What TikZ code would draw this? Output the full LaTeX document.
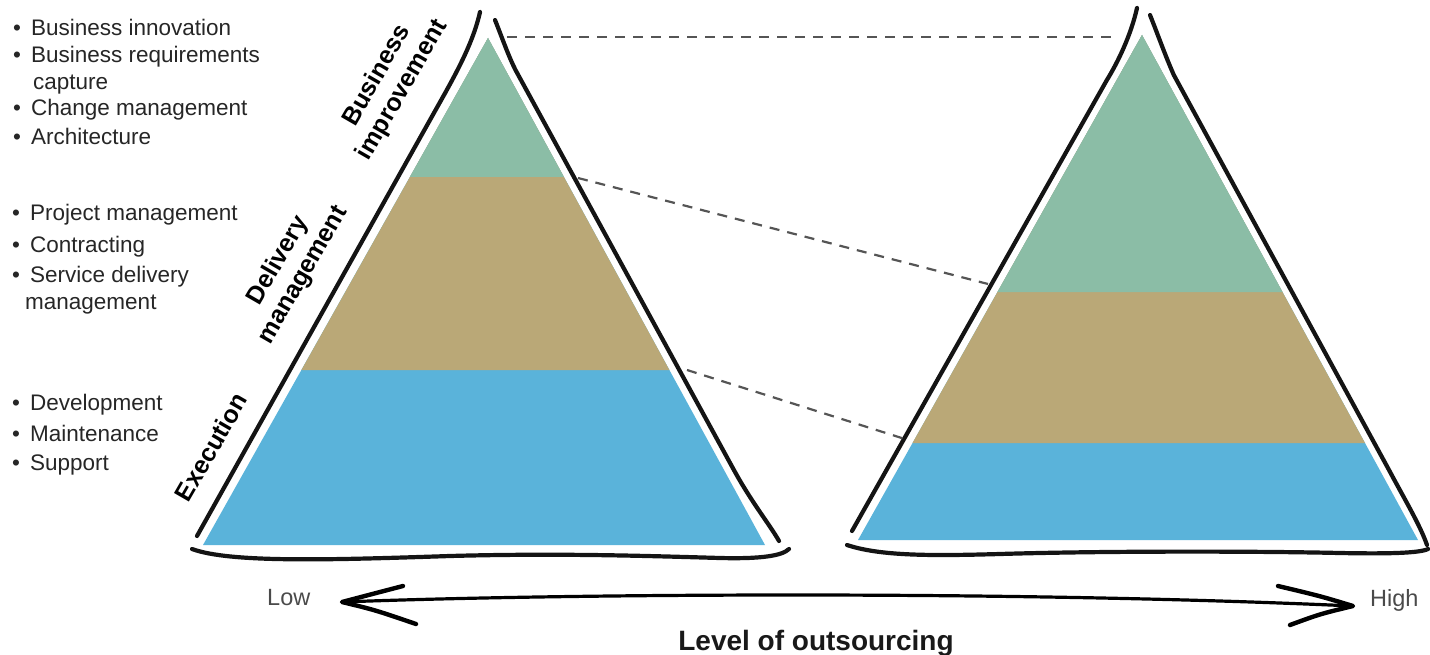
\documentclass[tikz,border=0pt]{standalone}
\usepackage{fontspec}
\setmainfont{Liberation Sans}
\definecolor{bandgreen}{HTML}{8BBDA6}
\definecolor{bandtan}{HTML}{BAA877}
\definecolor{bandblue}{HTML}{5AB3DA}
\definecolor{guidegray}{HTML}{555555}
\definecolor{axisgray}{HTML}{4A4A4A}
\begin{document}
\begin{tikzpicture}[x=1pt,y=-1pt,
  outline/.style={line width=4.2pt,line cap=round,line join=round,draw=black!92},
  guide/.style={draw=guidegray,line width=2.2pt,dash pattern=on 10pt off 8pt},
  arrowline/.style={line width=3.2pt,line cap=round,line join=round,draw=black},
  headline/.style={line width=4.4pt,line cap=round,line join=round,draw=black},
  bul/.style={anchor=base west,inner sep=0pt,text=black!85,font=\fontsize{22.5}{27}\selectfont},
  lvl/.style={inner sep=0pt,rotate=60,align=center,text=black,font=\bfseries\fontsize{25}{29}\selectfont},
  axislabel/.style={anchor=base west,inner sep=0pt,text=axisgray,font=\fontsize{23.5}{27}\selectfont}
]
\useasboundingbox (0,0) rectangle (1430,655);

% ---------- left pyramid fill ----------
\fill[bandblue] (488,38) -- (765,545) -- (203,545) -- cycle;
\fill[bandtan] (488,38) -- (669.4,370) -- (301.4,370) -- cycle;
\fill[bandgreen] (488,38) -- (563.9,177) -- (409.9,177) -- cycle;

% ---------- right pyramid fill ----------
\fill[bandblue] (1142,35) -- (1418,540) -- (858,540) -- cycle;
\fill[bandtan] (1142,35) -- (1365,443) -- (912.5,443) -- cycle;
\fill[bandgreen] (1142,35) -- (1282.5,292) -- (997.5,292) -- cycle;

% ---------- left pyramid outline ----------
\draw[outline] (197,536) -- (430,120) .. controls (450,84) and (472,48) .. (480,12);
\draw[outline] (495,20) .. controls (503,40) and (508,55) .. (515.5,70) -- (733.9,470) .. controls (752,503) and (770,525) .. (779,541);
\draw[outline] (192,549) .. controls (230,563) and (330,560) .. (450,556) .. controls (560,553) and (650,556) .. (720,558) .. controls (760,559) and (782,556) .. (789,549);

% ---------- right pyramid outline ----------
\draw[outline] (852,531) -- (1106.9,80) .. controls (1118,62) and (1131,35) .. (1137,8);
\draw[outline] (1150,15) .. controls (1158,35) and (1165,55) .. (1173.8,75) -- (1389,470) .. controls (1405,500) and (1420,525) .. (1427,545);
\draw[outline] (847,545) .. controls (880,556) and (930,556) .. (1000,554) .. controls (1100,551) and (1250,551) .. (1340,553) .. controls (1390,554) and (1420,553) .. (1428,549);

% ---------- dashed guides ----------
\coordinate (d1a) at (507,37);
\coordinate (d1b) at (1114,37);
\coordinate (d2a) at (578,178);
\coordinate (d2b) at (988,284);
\coordinate (d3a) at (687,370);
\coordinate (d3b) at (908,440);
\draw[guide] (d1a) -- (d1b);
\draw[guide] (d2a) -- (d2b);
\draw[guide] (d3a) -- (d3b);

% ---------- bullet lists ----------
\node[bul] (t1) at (13,36) {•\kern10pt Business innovation};
\node[bul] (t2) at (13,63) {•\kern10pt Business requirements};
\node[bul] (t3) at (33,90) {capture};
\node[bul] (t4) at (13,116) {•\kern10pt Change management};
\node[bul] (t5) at (13,145) {•\kern10pt Architecture};
\node[bul] (t6) at (12,221) {•\kern10pt Project management};
\node[bul] (t7) at (12,253) {•\kern10pt Contracting};
\node[bul] (t8) at (12,283) {•\kern10pt Service delivery};
\node[bul] (t9) at (25,309) {management};
\node[bul] (t10) at (12,410) {•\kern10pt Development};
\node[bul] (t11) at (12,441) {•\kern10pt Maintenance};
\node[bul] (t12) at (12,470) {•\kern10pt Support};

% ---------- rotated level labels ----------
\node[lvl] (bi) at (390,83) {Business\\improvement};
\node[lvl] (dm) at (291,268) {Delivery\\management};
\node[lvl] (ex) at (211,447) {Execution};

% ---------- outsourcing axis ----------
\coordinate (tipL) at (342,602);
\coordinate (tipR) at (1353,606);
\draw[arrowline] (tipL) .. controls (550,594) and (1000,590) .. (tipR);
\draw[headline] (403,586) .. controls (380,592) .. (tipL) .. controls (375,610) .. (416,624);
\draw[headline] (1278,586) .. controls (1320,596) .. (tipR) .. controls (1320,614) .. (1290,625);

\node[axislabel] (low) at (267,605) {Low};
\node[axislabel] (high) at (1370,606) {High};
\node[anchor=base,inner sep=0pt,text=black!90,font=\bfseries\fontsize{28}{32}\selectfont] (lvltitle) at (816,650) {Level of outsourcing};
\end{tikzpicture}
\end{document}
